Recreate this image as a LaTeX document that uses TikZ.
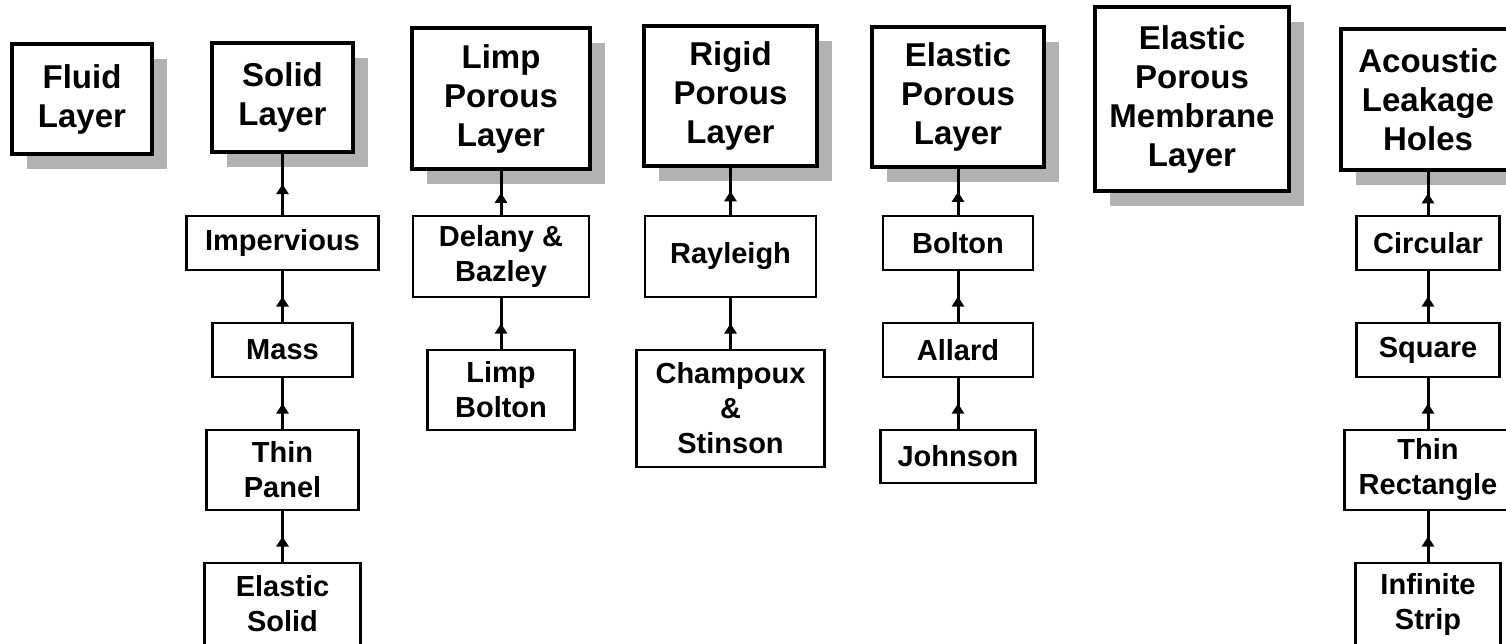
\documentclass[tikz,border=0pt]{standalone}
\usepackage{fontspec}
\setmainfont{Liberation Sans}
\usetikzlibrary{arrows.meta,shadows,calc}
\definecolor{shadowgray}{RGB}{178,178,178}
\tikzset{
  header/.style={draw, line width=4pt, fill=white, align=center, inner sep=0pt,
    font=\fontsize{33}{39}\selectfont\bfseries,
    drop shadow={shadow xshift=15pt, shadow yshift=-15pt, fill=shadowgray, opacity=1}},
  leaf/.style={draw, line width=2.8pt, fill=white, align=center, inner sep=0pt,
    font=\fontsize{29}{35}\selectfont\bfseries},
  conn/.style={line width=3pt},
  tipmark/.style={line width=3pt, -{Triangle[length=10pt,width=12pt]}}
}
\newcommand{\linkup}[2]{%
  \draw[conn] (#1.north) -- (#1.north |- #2.south);
  \draw[tipmark] (#1.north) -- ($(#1.north)!0.5!(#1.north |- #2.south)$);
}
\begin{document}
\begin{tikzpicture}[x=1pt,y=-1pt]
\useasboundingbox (0,0) rectangle (1506,643);
\clip (0,0) rectangle (1506,643);
% header boxes
\node[header, minimum width=140pt, minimum height=110pt] (fluid) at (82,99) {Fluid\\Layer};
\node[header, minimum width=141pt, minimum height=109pt] (solid) at (282.5,97) {Solid\\Layer};
\node[header, minimum width=178pt, minimum height=141pt] (limp) at (501,98.5) {Limp\\Porous\\Layer};
\node[header, minimum width=173pt, minimum height=140pt] (rigid) at (730.5,96) {Rigid\\Porous\\Layer};
\node[header, minimum width=172pt, minimum height=140pt] (elastic) at (958,97) {Elastic\\Porous\\Layer};
\node[header, minimum width=194pt, minimum height=184pt] (membrane) at (1192,99) {Elastic\\Porous\\Membrane\\Layer};
\node[header, minimum width=174pt, minimum height=141pt] (acoustic) at (1428,99.5) {Acoustic\\Leakage\\Holes};
% solid column
\node[leaf, minimum width=192pt, minimum height=54pt] (imperv) at (282.5,243) {Impervious};
\node[leaf, minimum width=140pt, minimum height=54pt] (mass) at (282.5,350) {Mass};
\node[leaf, minimum width=152pt, minimum height=80pt] (thinpanel) at (282.5,470) {Thin\\Panel};
\node[leaf, minimum width=156pt, minimum height=82pt] (elsolid) at (282.5,604) {Elastic\\Solid};
% limp column
\node[leaf, minimum width=176pt, minimum height=81pt] (delany) at (501,256.5) {Delany \&\\Bazley};
\node[leaf, minimum width=147pt, minimum height=80pt] (limpbolton) at (501,390) {Limp\\Bolton};
% rigid column
\node[leaf, minimum width=171pt, minimum height=81pt] (rayleigh) at (730.5,256.5) {Rayleigh};
\node[leaf, minimum width=188pt, minimum height=117pt] (champoux) at (730.5,408.5) {Champoux\\\&\\Stinson};
% elastic column
\node[leaf, minimum width=150pt, minimum height=54pt] (bolton) at (958,243) {Bolton};
\node[leaf, minimum width=150pt, minimum height=54pt] (allard) at (958,350) {Allard};
\node[leaf, minimum width=155pt, minimum height=53pt] (johnson) at (958,456.5) {Johnson};
% acoustic column
\node[leaf, minimum width=143pt, minimum height=54pt] (circular) at (1428,243) {Circular};
\node[leaf, minimum width=143pt, minimum height=54pt] (square) at (1428,350) {Square};
\node[leaf, minimum width=167pt, minimum height=80pt] (thinrect) at (1428,470) {Thin\\Rectangle};
\node[leaf, minimum width=145pt, minimum height=82pt] (infstrip) at (1428,604) {Infinite\\Strip};
% connectors
\linkup{imperv}{solid}
\linkup{mass}{imperv}
\linkup{thinpanel}{mass}
\linkup{elsolid}{thinpanel}
\linkup{delany}{limp}
\linkup{limpbolton}{delany}
\linkup{rayleigh}{rigid}
\linkup{champoux}{rayleigh}
\linkup{bolton}{elastic}
\linkup{allard}{bolton}
\linkup{johnson}{allard}
\linkup{circular}{acoustic}
\linkup{square}{circular}
\linkup{thinrect}{square}
\linkup{infstrip}{thinrect}
\end{tikzpicture}
\end{document}
